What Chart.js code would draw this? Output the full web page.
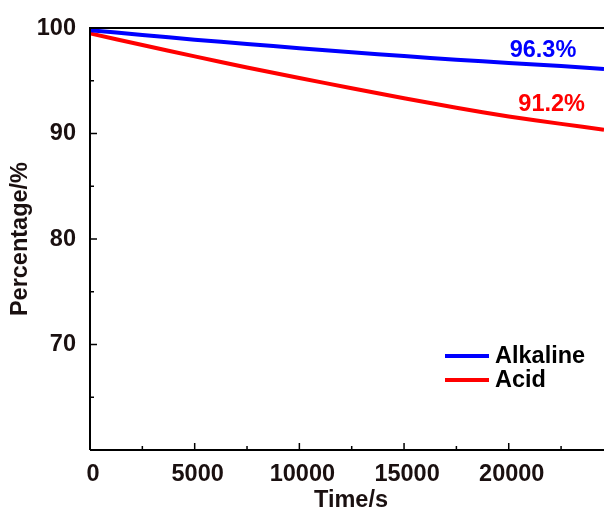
<!DOCTYPE html>
<html>
<head>
<meta charset="utf-8">
<script src="https://cdn.jsdelivr.net/npm/chart.js@4/dist/chart.umd.min.js"></script>
<style>
  html, body { margin: 0; padding: 0; background: #fff; }
  #wrap { width: 604px; height: 511px; position: relative; }
</style>
</head>
<body>
<div id="wrap"><canvas id="c" width="604" height="511"></canvas></div>
<script>
// ---- data ----
const times = [0, 2500, 5000, 7500, 10000, 12500, 15000, 17500, 20000, 22500, 24550];
const alkaline = [99.8, 99.35, 98.9, 98.5, 98.1, 97.7, 97.35, 97.0, 96.7, 96.4, 96.12];
const acid = [99.5, 98.4, 97.32, 96.27, 95.27, 94.3, 93.35, 92.45, 91.62, 90.92, 90.36];
const seriesNames = ['Alkaline', 'Acid'];
const seriesColors = ['#0000ff', '#ff0000'];
const xTickValues = [0, 2500, 5000, 7500, 10000, 12500, 15000, 17500, 20000, 22500];
const xTickLabels = [0, 5000, 10000, 15000, 20000];
const yTickLabels = [70, 80, 90, 100];
const annoTexts = ['96.3%', '91.2%'];
const annoX = [21635, 22050];
const annoY = [97.87, 92.8];
const xTitle = 'Time/s';
const yTitle = 'Percentage/%';

const FONT = '"Liberation Sans", Arial, sans-serif';
const TXT = '#1a1010';
const FS = 23.5;

const toPts = (ys) => times.map((t, i) => ({ x: t, y: ys[i] }));

const decor = {
  id: 'decor',
  afterDraw(chart) {
    const ctx = chart.ctx;
    const a = chart.chartArea;
    const xs = chart.scales.x, ys = chart.scales.y;
    ctx.save();
    // axes lines
    ctx.strokeStyle = '#000';
    ctx.lineWidth = 2;
    ctx.beginPath();
    ctx.moveTo(a.left, a.top); ctx.lineTo(a.right, a.top);
    ctx.moveTo(a.left, a.top - 1); ctx.lineTo(a.left, a.bottom);
    ctx.moveTo(a.left, a.bottom); ctx.lineTo(a.right, a.bottom);
    ctx.stroke();
    // x ticks (inward)
    ctx.lineWidth = 1.5;
    ctx.beginPath();
    xs.ticks.forEach(t => {
      if (t.value === 0) return;
      const px = xs.getPixelForValue(t.value);
      const len = t.value % 5000 === 0 ? 7 : 4;
      ctx.moveTo(px, a.bottom); ctx.lineTo(px, a.bottom - len);
    });
    // y ticks (inward)
    ys.ticks.forEach(t => {
      if (t.value === 100 || t.value === 60) return;
      const py = ys.getPixelForValue(t.value);
      const len = t.value % 10 === 0 ? 7 : 4;
      ctx.moveTo(a.left, py); ctx.lineTo(a.left + len, py);
    });
    ctx.stroke();
    // axis titles
    ctx.fillStyle = TXT;
    ctx.font = 'bold ' + FS + 'px ' + FONT;
    ctx.textAlign = 'center';
    ctx.textBaseline = 'middle';
    ctx.fillText(xTitle, (a.left + a.right) / 2 + 4, 501);
    ctx.save();
    ctx.translate(21, (a.top + a.bottom) / 2);
    ctx.rotate(-Math.PI / 2);
    ctx.fillText(yTitle, 0, 0);
    ctx.restore();
    // annotations
    annoTexts.forEach((s, i) => {
      ctx.fillStyle = seriesColors[i];
      ctx.fillText(s, xs.getPixelForValue(annoX[i]), ys.getPixelForValue(annoY[i]));
    });
    // legend
    ctx.textAlign = 'left';
    chart.data.datasets.forEach((ds, i) => {
      const ly = a.bottom - 94 + i * 24;
      ctx.strokeStyle = ds.borderColor;
      ctx.lineWidth = 4;
      ctx.beginPath();
      ctx.moveTo(a.right - 159, ly); ctx.lineTo(a.right - 115, ly);
      ctx.stroke();
      ctx.fillStyle = '#000';
      ctx.fillText(ds.label, a.right - 109, ly + 1);
    });
    ctx.restore();
  }
};

new Chart(document.getElementById('c'), {
  type: 'line',
  data: {
    datasets: [
      { label: seriesNames[0], data: toPts(alkaline), borderColor: seriesColors[0], borderWidth: 4, pointRadius: 0, tension: 0.2, clip: false },
      { label: seriesNames[1], data: toPts(acid), borderColor: seriesColors[1], borderWidth: 4, pointRadius: 0, tension: 0.2, clip: false }
    ]
  },
  options: {
    responsive: false,
    animation: false,
    events: [],
    layout: { padding: { top: 24, right: 0, left: 0, bottom: 0 } },
    plugins: { legend: { display: false }, tooltip: { enabled: false } },
    scales: {
      x: {
        type: 'linear',
        min: 0, max: times[times.length - 1],
        afterBuildTicks: s => { s.ticks = xTickValues.map(v => ({ value: v })); },
        afterFit: s => { s.height = 61; s.paddingRight = 0; },
        grid: { display: false, drawTicks: false },
        border: { display: false },
        ticks: {
          autoSkip: false,
          maxRotation: 0,
          padding: 10,
          labelOffset: 3,
          color: TXT,
          font: { family: FONT, size: FS, weight: 'bold' },
          callback: v => xTickLabels.includes(v) ? String(v) : ''
        }
      },
      y: {
        type: 'linear',
        min: 60, max: 100,
        afterFit: s => { s.width = 90; },
        grid: { display: false, drawTicks: false },
        border: { display: false },
        ticks: {
          stepSize: 5,
          autoSkip: false,
          padding: 14,
          color: TXT,
          font: { family: FONT, size: FS, weight: 'bold' },
          callback: v => yTickLabels.includes(v) ? String(v) : ''
        }
      }
    }
  },
  plugins: [decor]
});
</script>
</body>
</html>
